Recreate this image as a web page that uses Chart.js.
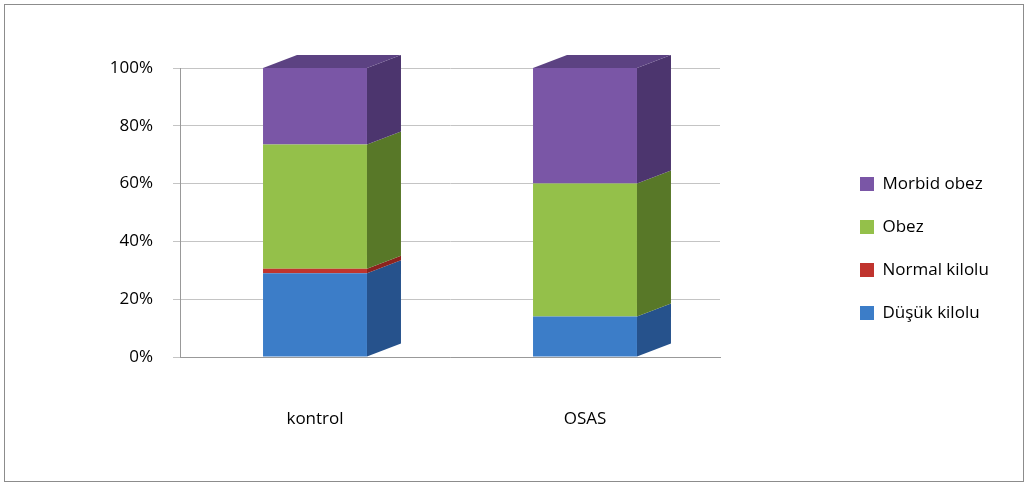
<!DOCTYPE html>
<html>
<head>
<meta charset="utf-8">
<script src="https://cdn.jsdelivr.net/npm/chart.js@4"></script>
<style>
  html, body { margin: 0; padding: 0; background: #fff; }
  #wrap { position: absolute; left: 4px; top: 4px; width: 1020px; height: 478px; border: 1px solid #8c8c8c; box-sizing: border-box; }
  canvas { display: block; }
</style>
</head>
<body>
<div id="wrap"><canvas id="myChart" width="1018" height="476"></canvas></div>
<script>
const categories = ["kontrol", "OSAS"];
const dusuk = [29, 14];
const normal = [1.5, 0];
const obez = [43, 46];
const morbid = [26.5, 40];
const yTicks = [0, 20, 40, 60, 80, 100];

const fronts = ['rgb(60, 125, 200)', 'rgb(192, 52, 46)', 'rgb(148, 192, 74)', 'rgb(122, 86, 166)'];
const sides = ['rgb(38, 82, 140)', 'rgb(140, 35, 30)', 'rgb(88, 120, 40)', 'rgb(76, 53, 110)'];
const tops = ['rgb(48, 100, 170)', 'rgb(160, 40, 35)', 'rgb(110, 150, 55)', 'rgb(92, 66, 130)'];

const font = { family: 'Open Sans', size: 17 };

// fake 3D sides and tops from the library's bar elements
const depth = { dx: 34, dy: 13 };
const box3d = {
  id: 'box3d',
  beforeLayout(chart) {
    const lg = chart.legend;
    if (lg && !lg._fixed) {
      const fit = lg.fit;
      lg.fit = function () { fit.call(this); this.width = 189; };
      lg._fixed = true;
    }
  },
  afterDatasetsDraw(chart) {
    const ctx = chart.ctx;
    const n = chart.data.datasets.length;
    categories.forEach((c, i) => {
      let topMost = null;
      for (let d = 0; d < n; d++) {
        const el = chart.getDatasetMeta(d).data[i];
        const w = el.width / 2;
        const right = el.x + w;
        const yTop = Math.min(el.y, el.base), yBot = Math.max(el.y, el.base);
        if (yBot - yTop > 0.01) {
          ctx.fillStyle = sides[d];
          ctx.beginPath();
          ctx.moveTo(right, yBot);
          ctx.lineTo(right + depth.dx, yBot - depth.dy);
          ctx.lineTo(right + depth.dx, yTop - depth.dy);
          ctx.lineTo(right, yTop);
          ctx.closePath();
          ctx.fill();
          topMost = { d, el, yTop };
        }
      }
      if (topMost) {
        const el = topMost.el, w = el.width / 2;
        ctx.fillStyle = tops[topMost.d];
        ctx.beginPath();
        ctx.moveTo(el.x - w, topMost.yTop);
        ctx.lineTo(el.x - w + depth.dx, topMost.yTop - depth.dy);
        ctx.lineTo(el.x + w + depth.dx, topMost.yTop - depth.dy);
        ctx.lineTo(el.x + w, topMost.yTop);
        ctx.closePath();
        ctx.fill();
      }
    });
  }
};

new Chart("myChart", {
  type: "bar",
  data: {
    labels: categories,
    datasets: [
      { label: "Düşük kilolu", data: dusuk, backgroundColor: fronts[0] },
      { label: "Normal kilolu", data: normal, backgroundColor: fronts[1] },
      { label: "Obez", data: obez, backgroundColor: fronts[2] },
      { label: "Morbid obez", data: morbid, backgroundColor: fronts[3] }
    ]
  },
  options: {
    responsive: false,
    animation: false,
    barPercentage: 0.7,
    categoryPercentage: 0.55,
    layout: { padding: { left: 0, top: 63, right: 0, bottom: 52 } },
    scales: {
      x: {
        stacked: true,
        grid: { display: false },
        border: { color: '#999' },
        ticks: { color: '#000', font: font, padding: 44 },
        afterFit(axis) { axis.height = 72; }
      },
      y: {
        stacked: true,
        min: 0,
        max: 100,
        afterBuildTicks(axis) { axis.ticks = yTicks.map(v => ({ value: v })); },
        afterFit(axis) { axis.width = 175; },
        grid: { color: '#c4c4c4', tickLength: 7 },
        border: { color: '#999' },
        ticks: {
          color: '#000',
          font: font,
          padding: 20,
          callback: v => v + '%'
        }
      },
      gap: {
        position: 'right',
        min: 0,
        max: 1,
        grid: { display: false },
        border: { display: false },
        ticks: { display: false },
        afterFit(axis) { axis.width = 114; }
      }
    },
    plugins: {
      legend: {
        position: 'right',
        reverse: true,
        labels: {
          color: '#000',
          font: font,
          boxWidth: 14,
          boxHeight: 14,
          padding: 26
        }
      },
      tooltip: { enabled: false }
    }
  },
  plugins: [box3d]
});
</script>
</body>
</html>
